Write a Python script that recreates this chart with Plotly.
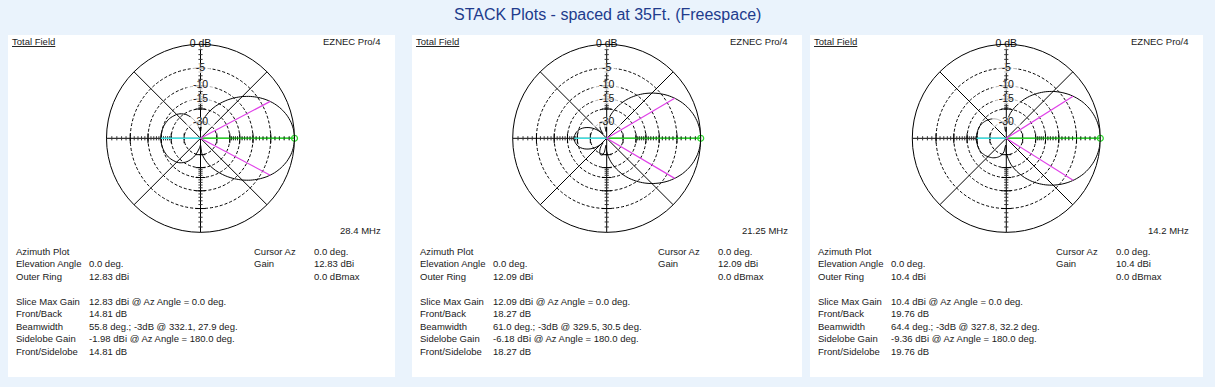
import numpy as np
import plotly.graph_objects as go

W, H = 1215, 387

# ---------------- data ----------------
FREQS = ["28.4 MHz", "21.25 MHz", "14.2 MHz"]
MAX_GAIN = [12.83, 12.09, 10.4]          # dBi
FRONT_BACK = [14.81, 18.27, 19.76]       # dB
BEAMWIDTH = [55.8, 61.0, 64.4]           # deg
BW_LEFT = [332.1, 329.5, 327.8]
BW_RIGHT = [27.9, 30.5, 32.2]
SIDELOBE_GAIN = [-1.98, -6.18, -9.36]    # dBi @ 180
FRONT_SIDELOBE = [14.81, 18.27, 19.76]

# half pattern, azimuth 0..180 deg step 5, dB relative to max (symmetric about 0)
ANGLES_HALF = list(range(0, 185, 5))
PAT_28 = [0, -0.1, -0.38, -0.87, -1.55, -2.42, -3.5, -4.8, -6.3, -8.0,
          -9.9, -12.0, -14.3, -16.8, -19.6, -22.8, -26.5, -31.5, -45,
          -40, -35.3, -30.5, -26.6, -23.8, -21.4, -19.8, -18.5, -17.6,
          -17.0, -16.4, -15.9, -15.6, -15.3, -15.1, -14.95, -14.85, -14.81]
PAT_21 = [0, -0.08, -0.32, -0.72, -1.28, -2.0, -2.9, -3.95, -5.2, -6.6,
          -8.2, -10.0, -12.0, -14.3, -17.0, -20.0, -23.5, -28.0, -34.0,
          -45, -32.0, -29.2, -28.7, -30.0, -33.0, -38.0, -48, -40.0,
          -33.0, -28.5, -25.3, -22.8, -21.0, -19.7, -18.9, -18.4, -18.27]
PAT_14 = [0, -0.07, -0.28, -0.63, -1.12, -1.76, -2.58, -3.55, -4.7, -6.0,
          -7.5, -9.2, -11.1, -13.3, -15.8, -18.6, -21.8, -26.5, -32.0,
          -45, -33.0, -29.5, -27.3, -25.8, -24.6, -23.6, -22.8, -22.1,
          -21.4, -20.9, -20.4, -20.1, -19.9, -19.8, -19.77, -19.76, -19.76]
PATTERNS = [PAT_28, PAT_21, PAT_14]

RING_DB = [-5, -10, -15, -20, -30]
RING_LABELS = ["-5", "-10", "-15", "", "-30"]

TITLE = "STACK Plots - spaced at 35Ft. (Freespace)"

# ---------------- layout constants ----------------
PANELS = [(8, 395), (412, 802), (810, 1203)]
PANEL_TOP, PANEL_BOT = 35, 377
CENTERS_X = [200.5, 606.7, 1006.3]
CY, R = 138.3, 94
BG = "#eaf3fc"
FONT = "Liberation Sans, Arial, sans-serif"


def arrl(db):
    """ARRL log polar scale: radius shrinks by 0.89 every 2 dB."""
    return 0.89 ** (-np.asarray(db, dtype=float) / 2.0)


fig = go.Figure()
shapes, annotations = [], []

for i in range(3):
    pid = "polar" if i == 0 else f"polar{i + 1}"
    cx = CENTERS_X[i]
    dom_x = [(cx - R) / W, (cx + R) / W]
    dom_y = [1 - (CY + R) / H, 1 - (CY - R) / H]

    # full pattern from symmetric half
    half = PATTERNS[i]
    th = ANGLES_HALF + [360 - a for a in reversed(ANGLES_HALF[:-1])]
    vals = half + list(reversed(half[:-1]))
    rr = arrl(vals)

    ring_r = list(arrl(RING_DB))

    # axis tick marks (major at rings, minor every dB)
    minor_db = [d for d in range(-1, -21, -1)]
    minor_r = list(arrl(minor_db))
    for thv, sym in [(0, "line-ns"), (180, "line-ns"), (90, "line-ew"), (270, "line-ew")]:
        fig.add_trace(go.Scatterpolar(
            r=minor_r, theta=[thv] * len(minor_r), mode="markers", subplot=pid,
            marker=dict(symbol=sym, size=3, line=dict(color="#333", width=1)),
            showlegend=False, hoverinfo="skip"))
        fig.add_trace(go.Scatterpolar(
            r=ring_r, theta=[thv] * len(ring_r), mode="markers", subplot=pid,
            marker=dict(symbol=sym, size=7, line=dict(color="black", width=1)),
            showlegend=False, hoverinfo="skip"))

    # pattern
    fig.add_trace(go.Scatterpolar(
        r=rr, theta=th, mode="lines", subplot=pid,
        line=dict(color="black", width=1, shape="spline", smoothing=0.8),
        showlegend=False, hoverinfo="skip"))

    # green cursor line, cyan back line, magenta -3 dB lines
    fig.add_trace(go.Scatterpolar(
        r=[0, 1], theta=[0, 0], mode="lines", subplot=pid,
        line=dict(color="#2bd42b", width=1.6), showlegend=False, hoverinfo="skip"))
    fig.add_trace(go.Scatterpolar(
        r=[1], theta=[0], mode="markers", subplot=pid,
        marker=dict(symbol="circle-open", size=6, color="#2bd42b", line=dict(width=1.2)),
        showlegend=False, hoverinfo="skip"))
    fig.add_trace(go.Scatterpolar(
        r=[0, float(arrl(-FRONT_BACK[i]))], theta=[180, 180], mode="lines", subplot=pid,
        line=dict(color="#3fe0e0", width=1.6), showlegend=False, hoverinfo="skip"))
    r3 = float(arrl(-3))
    for ang in (BW_RIGHT[i], BW_LEFT[i]):
        fig.add_trace(go.Scatterpolar(
            r=[0, r3], theta=[ang, ang], mode="lines", subplot=pid,
            line=dict(color="#e040e8", width=1.2), showlegend=False, hoverinfo="skip"))
    # dotted overlay on cursor line
    fig.add_trace(go.Scatterpolar(
        r=minor_r, theta=[0] * len(minor_r), mode="markers", subplot=pid,
        marker=dict(symbol="line-ns", size=2, line=dict(color="#1a5a1a", width=1)),
        showlegend=False, hoverinfo="skip"))

    # ring labels with white background
    lab_r = [1.0] + [r for r, t in zip(ring_r, RING_LABELS) if t]
    lab_t = ["0 dB"] + [t for t in RING_LABELS if t]
    lab_w = [6 * len(t) + 2 for t in lab_t]
    fig.add_trace(go.Scatterpolar(
        r=lab_r, theta=[90] * len(lab_r), mode="markers+text", subplot=pid,
        text=lab_t, textposition="middle center",
        textfont=dict(family=FONT, size=10.5, color="#111"),
        marker=dict(symbol="line-ew", size=lab_w, color="white",
                    line=dict(color="white", width=10)),
        showlegend=False, hoverinfo="skip"))

    fig.update_layout(**{pid: dict(
        domain=dict(x=dom_x, y=dom_y),
        bgcolor="white",
        radialaxis=dict(range=[0, 1], tickvals=ring_r, showticklabels=False, ticks="",
                        showline=False, showgrid=True, gridcolor="black", gridwidth=1,
                        griddash="3px,2px"),
        angularaxis=dict(rotation=0, direction="counterclockwise",
                         tickvals=[0, 45, 90, 135, 180, 225, 270, 315],
                         showticklabels=False, ticks="", showgrid=True,
                         gridcolor="black", gridwidth=1, showline=True,
                         linecolor="black", linewidth=1),
    )})

    # panel background
    x0, x1 = PANELS[i]
    shapes.append(dict(type="rect", xref="paper", yref="paper", layer="below",
                       x0=x0 / W, x1=x1 / W, y0=1 - PANEL_BOT / H, y1=1 - PANEL_TOP / H,
                       fillcolor="white", line=dict(width=0)))

    def txt(x, y, s, anchor="left", size=9.5):
        annotations.append(dict(x=x / W, y=1 - y / H, xref="paper", yref="paper",
                                text=s, showarrow=False, xanchor=anchor, yanchor="middle",
                                font=dict(family=FONT, size=size, color="#1a1a1a")))

    txt(x0 + 2, 42, "<u>Total Field</u>")
    txt(x1 - 12, 42, "EZNEC Pro/4", "right")
    txt(x1 - 12, 230, FREQS[i], "right")

    g = MAX_GAIN[i]
    lab_x = x0 + 6
    val_x = x0 + 79
    cur_x = x0 + 244
    cval_x = x0 + 304
    rows_y = [251, 263.5, 276, 301, 313.5, 326, 338.5, 351]
    labels = ["Azimuth Plot", "Elevation Angle", "Outer Ring", "Slice Max Gain",
              "Front/Back", "Beamwidth", "Sidelobe Gain", "Front/Sidelobe"]
    values = ["", "0.0 deg.", f"{g} dBi", f"{g} dBi @ Az Angle = 0.0 deg.",
              f"{FRONT_BACK[i]} dB",
              f"{BEAMWIDTH[i]} deg.; -3dB @ {BW_LEFT[i]}, {BW_RIGHT[i]} deg.",
              f"{SIDELOBE_GAIN[i]} dBi @ Az Angle = 180.0 deg.",
              f"{FRONT_SIDELOBE[i]} dB"]
    for y, l, v in zip(rows_y, labels, values):
        txt(lab_x, y, l)
        if v:
            txt(val_x, y, v)
    txt(cur_x, rows_y[0], "Cursor Az")
    txt(cval_x, rows_y[0], "0.0 deg.")
    txt(cur_x, rows_y[1], "Gain")
    txt(cval_x, rows_y[1], f"{g} dBi")
    txt(cval_x, rows_y[2], "0.0 dBmax")

annotations.append(dict(x=0.5, y=1 - 15 / H, xref="paper", yref="paper", text=TITLE,
                        showarrow=False, xanchor="center", yanchor="middle",
                        font=dict(family=FONT, size=16, color="#213b8c")))

fig.update_layout(width=W, height=H, margin=dict(l=0, r=0, t=0, b=0),
                  paper_bgcolor=BG, plot_bgcolor=BG, shapes=shapes,
                  annotations=annotations, showlegend=False)

fig.write_html("out.html", config={"displayModeBar": False},
               post_script="document.body.style.margin='0';document.body.style.background='" + BG + "';")
